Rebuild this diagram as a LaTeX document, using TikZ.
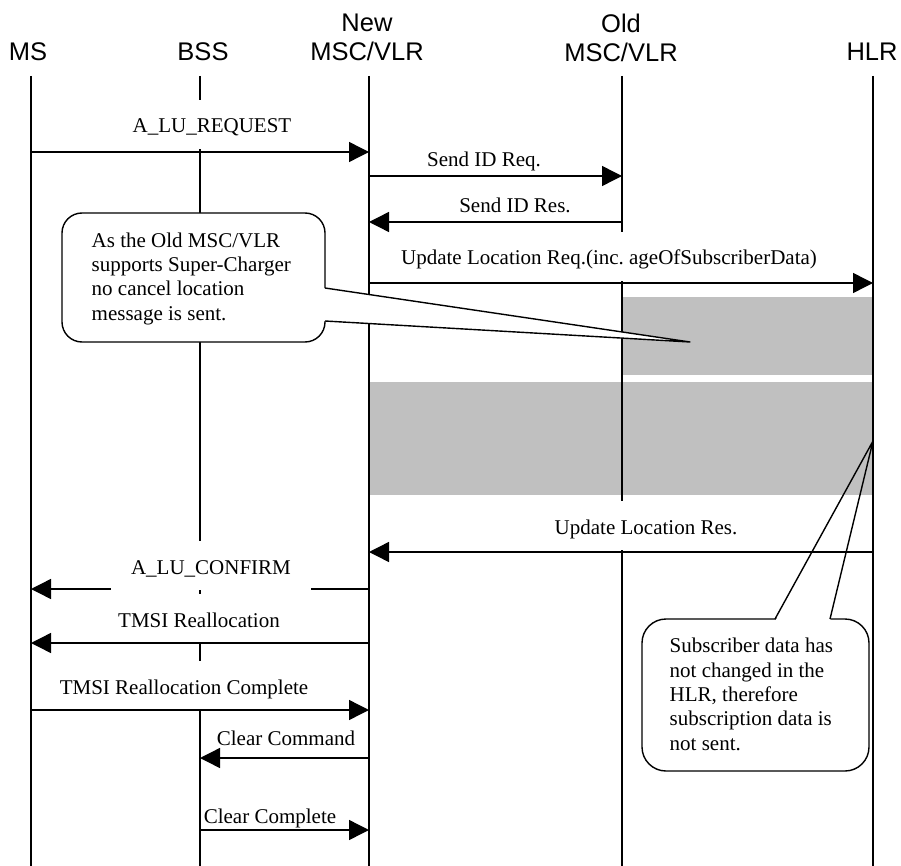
\documentclass[tikz,border=0pt]{standalone}
\usepackage{fontspec}
\setmainfont{Liberation Serif}
\newfontfamily\hdrfont{Liberation Sans}
\usetikzlibrary{arrows.meta}
\definecolor{boxgray}{RGB}{192,192,192}
\frenchspacing
\begin{document}
\begin{tikzpicture}[x=1pt,y=-1pt,line width=1.4pt,
  msg/.style={-{Triangle[length=20pt,width=20pt]},line width=1.4pt},
  life/.style={line width=1.4pt},
  hdr/.style={font=\hdrfont\fontsize{25.5}{29}\selectfont,inner sep=0pt,align=center,anchor=base},
  lblbox/.style={font=\fontsize{21}{24}\selectfont,anchor=base,fill=white,inner xsep=20pt,inner ysep=0pt,text height=33pt,text depth=16pt},
  lbl/.style={font=\fontsize{21}{24}\selectfont,anchor=base,inner sep=0pt},
  note/.style={font=\fontsize{21}{24.3}\selectfont,align=left,inner sep=0pt,anchor=base west},
  shade/.style={fill=boxgray,draw=none},
  callout/.style={draw,fill=white,line width=1.4pt}]
\useasboundingbox (0,0) rectangle (901,866);

% lifeline end points
\coordinate (ms) at (31,76);   \coordinate (ms-end) at (31,866);
\coordinate (bss) at (200,76); \coordinate (bss-end) at (200,866);
\coordinate (new) at (369,76); \coordinate (new-end) at (369,866);
\coordinate (old) at (622,76); \coordinate (old-end) at (622,866);
\coordinate (hlr) at (873,76); \coordinate (hlr-end) at (873,866);

% message heights
\coordinate (y1) at (0,152);
\coordinate (y2) at (0,176);
\coordinate (y3) at (0,222);
\coordinate (y4) at (0,283);
\coordinate (y5) at (0,552);
\coordinate (y6) at (0,589);
\coordinate (y7) at (0,643);
\coordinate (y8) at (0,710);
\coordinate (y9) at (0,758);
\coordinate (y10) at (0,830);

% callout 2 body (under the grey areas)
\path[callout,rounded corners=24pt] (642,619) rectangle (869,771);
\fill[white] (775,621.5) -- (873,441) -- (830,621.5) -- cycle;
\node[note] (note2) at (669,750) {Subscriber data has\\not changed in the\\HLR, therefore\\subscription data is\\not sent.};

% grey areas
\path[shade] (622,297) rectangle (873,375);
\path[shade] (369,382) rectangle (873,495);

% lifelines
\draw[life] (ms) -- (ms-end);
\draw[life] (bss) -- (bss-end);
\draw[life] (new) -- (new-end);
\draw[life] (old) -- (old-end);
\draw[life] (hlr) -- (hlr-end);

% callout 2 pointer
\draw[line join=round] (775,619) -- (873,441) -- (830,619);

% message labels
\node[lblbox] (l1) at (212,133) {A\_LU\_REQUEST};
\node[lbl] (l2) at (484,167) {Send ID Req.};
\node[lbl] (l3) at (515,213) {Send ID Res.};
\node[lblbox] (l4) at (609,265) {Update Location Req.(inc. ageOfSubscriberData)};
\node[lblbox] (l5) at (646,534) {Update Location Res.};
\node[lblbox] (l7) at (199,627) {TMSI Reallocation};
\node[lblbox] (l8) at (184,694) {TMSI Reallocation Complete};
\node[lbl] (l9) at (286,745) {Clear Command};
\node[lbl] (l10) at (270,823) {Clear Complete};

% messages
\draw[msg] (ms |- y1) -- (new |- y1);
\draw[msg] (new |- y2) -- (old |- y2);
\draw[msg] (old |- y3) -- (new |- y3);
\draw[msg] (new |- y4) -- (hlr |- y4);
\draw[msg] (hlr |- y5) -- (new |- y5);
\draw[msg] (new |- y6) -- (ms |- y6);
\draw[msg] (new |- y7) -- (ms |- y7);
\draw[msg] (ms |- y8) -- (new |- y8);
\draw[msg] (new |- y9) -- (bss |- y9);
\draw[msg] (bss |- y10) -- (new |- y10);

\node[lblbox] (l6) at (211,574) {A\_LU\_CONFIRM};

% callout 1
\path[callout,rounded corners=20pt] (62,213) rectangle (325,342);
\fill[white] (323,288) -- (690,342) -- (323,321) -- cycle;
\draw[line join=round] (325,288) -- (690,342) -- (325,321);
\node[note] (note1) at (91,320) {As the Old MSC/VLR\\supports Super-Charger\\no cancel location\\message is sent.};

% headers
\node[hdr] (h-ms) at (28,61) {MS};
\node[hdr] (h-bss) at (203,61) {BSS};
\node[hdr] (h-new) at (367,61) {New\\MSC/VLR};
\node[hdr] (h-old) at (621,62) {Old\\MSC/VLR};
\node[hdr] (h-hlr) at (872,61) {HLR};
\end{tikzpicture}
\end{document}
